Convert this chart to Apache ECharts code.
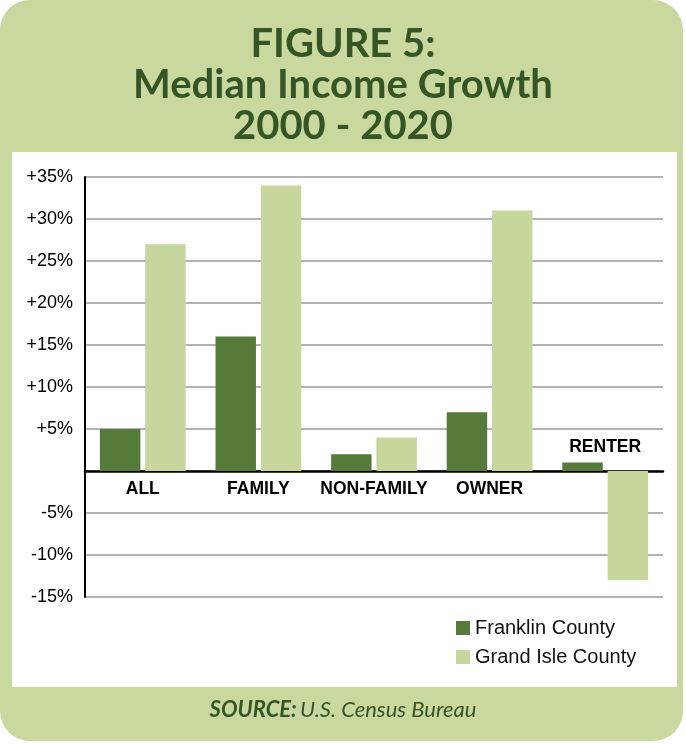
<!DOCTYPE html>
<html>
<head>
<meta charset="utf-8">
<script src="https://cdn.jsdelivr.net/npm/echarts@6/dist/echarts.min.js"></script>
<style>
  html, body { margin: 0; padding: 0; background: #fff; }
  #main { width: 686px; height: 744px; }
</style>
</head>
<body>
<div id="main"></div>
<script>
// chart data
const categories = ['ALL', 'FAMILY', 'NON-FAMILY', 'OWNER', 'RENTER'];
const franklin = [5, 16, 2, 7, 1];
const grandIsle = [27, 34, 4, 31, -13];
const seriesNames = ['Franklin County', 'Grand Isle County'];
const yTicks = { min: -15, max: 35, step: 5 };

const darkGreen = '#567a3a';
const lightGreen = '#c7d69d';
const panelGreen = '#c9d89f';
const titleGreen = '#355624';

// category labels sit below the zero line, except where a bar goes negative
const aboveLabel = categories.map((c, i) => grandIsle[i] < 0 || franklin[i] < 0);

const labelFont = {
  fontFamily: 'Liberation Sans',
  fontWeight: 'bold',
  fontSize: 17.5,
  color: '#000'
};

const chart = echarts.init(document.getElementById('main'));

const option = {
  backgroundColor: '#ffffff',
  animation: false,
  title: {
    text: 'FIGURE 5:\nMedian Income Growth\n2000 - 2020',
    left: 'center',
    top: 19,
    textStyle: {
      fontFamily: 'Lato',
      fontWeight: 'bold',
      fontSize: 40,
      lineHeight: 41,
      color: titleGreen
    }
  },
  graphic: [
    {
      type: 'rect',
      z: -10,
      shape: { x: 0, y: 0, width: 683, height: 741, r: 30 },
      style: { fill: panelGreen }
    },
    {
      type: 'rect',
      z: -9,
      shape: { x: 12, y: 152, width: 665, height: 535 },
      style: { fill: '#ffffff' }
    },
    {
      type: 'text',
      left: 'center',
      top: 699,
      style: {
        text: '{b|SOURCE:} {i|U.S. Census Bureau}',
        rich: {
          b: { fontFamily: 'Lato', fontStyle: 'italic', fontWeight: 'bold', fontSize: 22, fill: titleGreen },
          i: { fontFamily: 'Lato', fontStyle: 'italic', fontSize: 22, fill: titleGreen }
        }
      }
    }
  ],
  legend: {
    orient: 'vertical',
    left: 451,
    top: 613,
    itemWidth: 14,
    itemHeight: 14,
    itemGap: 9,
    icon: 'rect',
    data: seriesNames,
    textStyle: { fontFamily: 'Liberation Sans', fontSize: 20, color: '#111' }
  },
  grid: { left: 85, right: 23, top: 177, bottom: 147 },
  xAxis: [
    {
      type: 'category',
      data: categories,
      axisLine: { onZero: true, lineStyle: { color: '#000', width: 2.5 } },
      axisTick: { show: false },
      axisLabel: Object.assign({
        interval: 0,
        margin: 9,
        formatter: (v, i) => (aboveLabel[i] ? '' : v)
      }, labelFont)
    },
    {
      type: 'category',
      position: 'top',
      data: categories,
      axisLine: { show: false },
      axisTick: { show: false },
      axisLabel: Object.assign({
        interval: 0,
        margin: 15,
        formatter: (v, i) => (aboveLabel[i] ? v : '')
      }, labelFont)
    }
  ],
  yAxis: {
    type: 'value',
    min: yTicks.min,
    max: yTicks.max,
    interval: yTicks.step,
    axisLine: { show: true, lineStyle: { color: '#000', width: 2 } },
    axisTick: { show: false },
    axisLabel: {
      margin: 12,
      fontFamily: 'Liberation Sans',
      fontSize: 18,
      color: '#000',
      formatter: (v) => (v > 0 ? '+' + v + '%' : v < 0 ? v + '%' : '')
    },
    splitLine: { lineStyle: { color: '#9a9a9a', width: 1.5 } }
  },
  series: [
    {
      name: seriesNames[0],
      type: 'bar',
      data: franklin,
      barWidth: '35%',
      barGap: '12%',
      itemStyle: { color: darkGreen }
    },
    {
      name: seriesNames[1],
      type: 'bar',
      data: grandIsle,
      barWidth: '35%',
      itemStyle: { color: lightGreen }
    }
  ]
};

chart.setOption(option);

// move the category labels to the zero line (labels stay at the grid edge otherwise)
const zeroY = chart.convertToPixel({ yAxisIndex: 0 }, 0);
const bottomY = chart.convertToPixel({ yAxisIndex: 0 }, yTicks.min);
const topY = chart.convertToPixel({ yAxisIndex: 0 }, yTicks.max);
chart.setOption({
  xAxis: [
    { axisLabel: { margin: 9 - (bottomY - zeroY) } },
    { axisLabel: { margin: 15 - (zeroY - topY) } }
  ]
});
</script>
</body>
</html>
